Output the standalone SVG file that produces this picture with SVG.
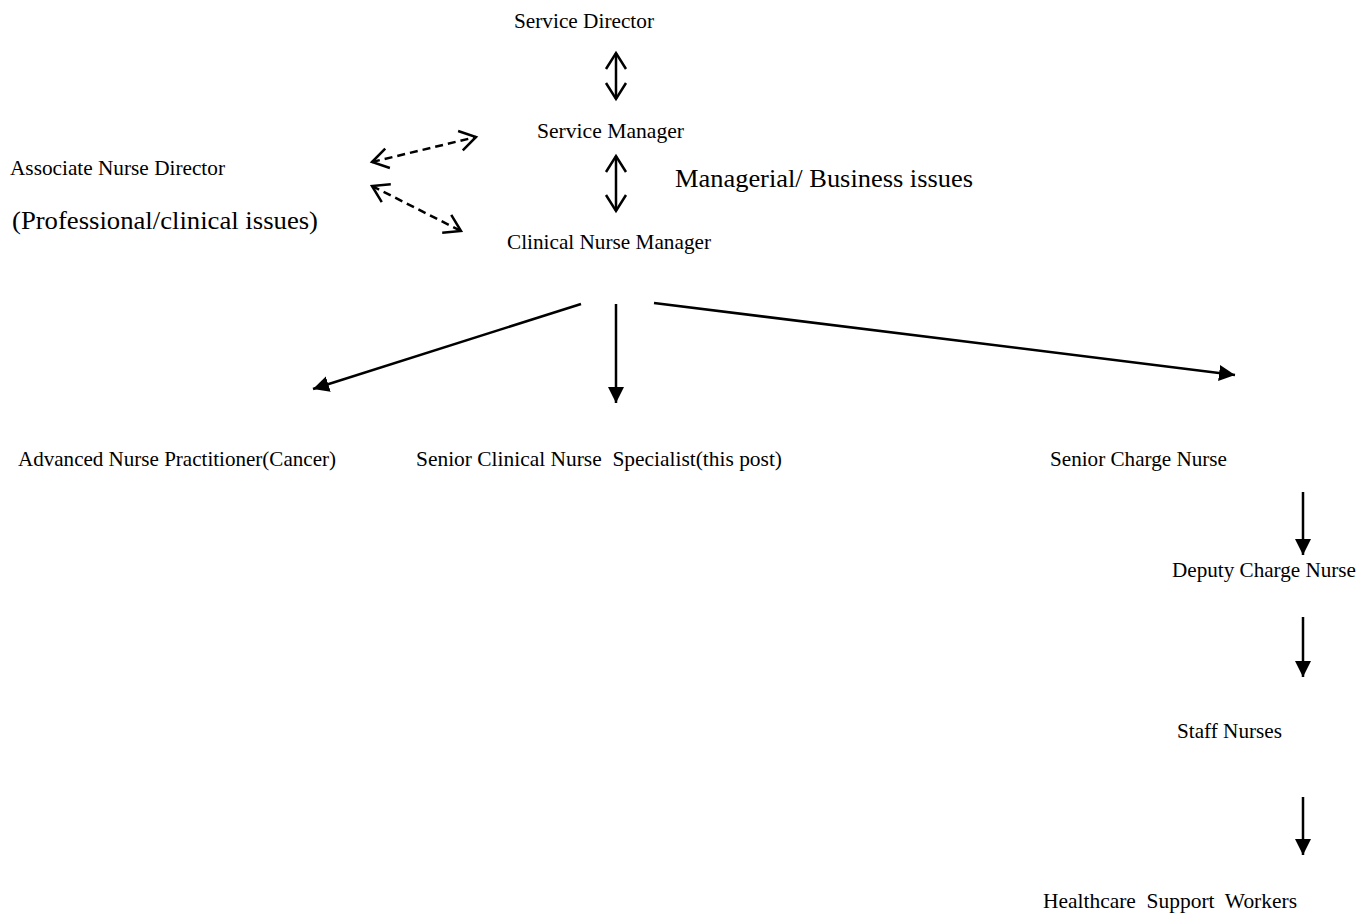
<svg xmlns="http://www.w3.org/2000/svg" width="1358" height="916" viewBox="0 0 1358 916">
<style>
text{font-family:"Liberation Serif","Times New Roman",serif;fill:#000;font-size:21px;white-space:pre}
text.big{font-size:26px}
.c{stroke:#000;stroke-width:2.5;fill:none}
.d{stroke-dasharray:8 5}
</style>
<defs>
<marker id="tri" markerUnits="userSpaceOnUse" viewBox="0 0 17 17" markerWidth="17" markerHeight="17" refX="16" refY="8.5" orient="auto">
<path d="M0,0.5 L16,8.5 L0,16.5 z" fill="#000"/>
</marker>
<marker id="vee" markerUnits="userSpaceOnUse" viewBox="0 0 20 24" markerWidth="20" markerHeight="24" refX="17" refY="12" orient="auto-start-reverse">
<path d="M1,2 L17,12 L1,22" fill="none" stroke="#000" stroke-width="2.5" stroke-dasharray="none"/>
</marker>
</defs>
<rect width="1358" height="916" fill="#fff"/>
<g id="connectors">
<line class="c" x1="616" y1="53" x2="616" y2="99" marker-start="url(#vee)" marker-end="url(#vee)"/>
<line class="c" x1="616" y1="156" x2="616" y2="211" marker-start="url(#vee)" marker-end="url(#vee)"/>
<line class="c d" x1="372" y1="162" x2="476" y2="137" marker-start="url(#vee)" marker-end="url(#vee)"/>
<line class="c d" x1="372" y1="186" x2="461" y2="231" marker-start="url(#vee)" marker-end="url(#vee)"/>
<line class="c" x1="581" y1="304" x2="313" y2="389" marker-end="url(#tri)"/>
<line class="c" x1="616" y1="304" x2="616" y2="403" marker-end="url(#tri)"/>
<line class="c" x1="654" y1="303" x2="1235" y2="375" marker-end="url(#tri)"/>
<line class="c" x1="1303" y1="492" x2="1303" y2="555" marker-end="url(#tri)"/>
<line class="c" x1="1303" y1="617" x2="1303" y2="677" marker-end="url(#tri)"/>
<line class="c" x1="1303" y1="797" x2="1303" y2="855" marker-end="url(#tri)"/>
</g>
<g id="service-director"><text x="514" y="28" textLength="140" lengthAdjust="spacingAndGlyphs">Service Director</text></g>
<g id="service-manager"><text x="537" y="138" textLength="147" lengthAdjust="spacingAndGlyphs">Service Manager</text></g>
<g id="associate-nurse-director">
<text x="10" y="175" textLength="215" lengthAdjust="spacingAndGlyphs">Associate Nurse Director</text>
<text class="big" x="12" y="229" textLength="306" lengthAdjust="spacingAndGlyphs">(Professional/clinical issues)</text>
</g>
<g id="managerial-label"><text class="big" x="675" y="187" textLength="298" lengthAdjust="spacingAndGlyphs">Managerial/ Business issues</text></g>
<g id="clinical-nurse-manager"><text x="507" y="249" textLength="204" lengthAdjust="spacingAndGlyphs">Clinical Nurse Manager</text></g>
<g id="advanced-nurse-practitioner"><text x="18" y="466" textLength="318" lengthAdjust="spacingAndGlyphs">Advanced Nurse Practitioner(Cancer)</text></g>
<g id="senior-clinical-nurse-specialist"><text x="416" y="466" textLength="366" lengthAdjust="spacingAndGlyphs">Senior Clinical Nurse  Specialist(this post)</text></g>
<g id="senior-charge-nurse"><text x="1050" y="466" textLength="177" lengthAdjust="spacingAndGlyphs">Senior Charge Nurse</text></g>
<g id="deputy-charge-nurse"><text x="1172" y="577" textLength="184" lengthAdjust="spacingAndGlyphs">Deputy Charge Nurse</text></g>
<g id="staff-nurses"><text x="1177" y="738" textLength="105" lengthAdjust="spacingAndGlyphs">Staff Nurses</text></g>
<g id="healthcare-support-workers"><text x="1043" y="908" textLength="254" lengthAdjust="spacingAndGlyphs">Healthcare  Support  Workers</text></g>
</svg>
